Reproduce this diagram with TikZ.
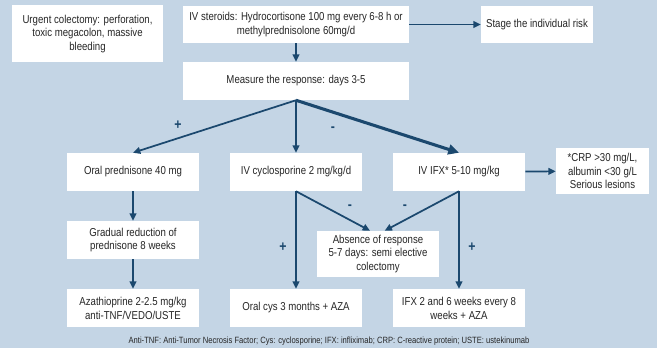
\documentclass[tikz,border=0pt]{standalone}
\usepackage{fontspec}
\setmainfont{Liberation Sans}[FakeStretch=0.84]
\usepackage{xcolor}
\usepackage{tikz}
\usetikzlibrary{arrows.meta,calc,positioning}
\definecolor{panelblue}{RGB}{196,213,229}
\definecolor{arrowblue}{RGB}{27,72,110}
\definecolor{textgray}{RGB}{38,38,38}

\begin{document}
\begin{tikzpicture}[x=0.75pt,y=-0.75pt,>={Triangle[length=5.5pt,width=5pt]},line cap=butt]
\tikzset{stepbox/.style={fill=white,text=textgray,align=center,inner sep=1pt,
    font=\fontsize{8.6}{10.4}\selectfont,minimum width=99pt,minimum height=28.5pt},
  flow/.style={->,arrowblue,line width=1.3pt},
  sign/.style={text=arrowblue,font=\fontsize{11}{11}\selectfont\bfseries}}
% background
\fill[panelblue] (0,0) rectangle (657,348);
\useasboundingbox (0,0) rectangle (657,348);

% top row
\node[stepbox,minimum width=113.25pt,minimum height=42.75pt] (urgent) at (87.5,34)
  {Urgent colectomy: perforation,\\toxic megacolon, massive\\bleeding};
\node[stepbox,minimum width=169.5pt,minimum height=27.75pt] (steroids) at (296,24.5)
  {IV steroids: Hydrocortisone 100 mg every 6-8 h or\\methylprednisolone 60mg/d};
\node[stepbox,minimum width=84pt,minimum height=27.75pt] (stage) at (537,24.5)
  {Stage the individual risk};
\node[stepbox,minimum width=169.5pt] (measure) at (296,81) {Measure the response: days 3-5};

% treatments
\node[stepbox] (pred) at (133,172) {Oral prednisone 40 mg};
\node[stepbox] (cyclo) at (296,172) {IV cyclosporine 2 mg/kg/d};
\node[stepbox] (ifx) at (459,172) {IV IFX* 5-10 mg/kg};
\node[stepbox,minimum width=69.75pt,minimum height=34.5pt] (crp) at (602.5,171)
  {*CRP >30 mg/L,\\albumin <30 g/L\\Serious lesions};
\node[stepbox] (gradual) at (133,240) {Gradual reduction of\\prednisone 8 weeks};
\node[stepbox,minimum width=91.5pt,minimum height=34.5pt] (absence) at (378,254)
  {Absence of response\\5-7 days: semi elective\\colectomy};

% bottom row
\node[stepbox] (aza) at (133,308) {Azathioprine 2-2.5 mg/kg\\anti-TNF/VEDO/USTE};
\node[stepbox] (oralcys) at (296,308) {Oral cys 3 months + AZA};
\node[stepbox] (ifxkeep) at (459,308) {IFX 2 and 6 weeks every 8\\weeks + AZA};

\node[text=textgray,font=\fontsize{6.8}{7}\selectfont] (legend) at (329,341)
  {Anti-TNF: Anti-Tumor Necrosis Factor; Cys: cyclosporine; IFX: infliximab; CRP: C-reactive protein; USTE: ustekinumab};

% connectors
\draw[flow] (steroids) -- (measure);
\draw[flow] (steroids) -- (stage);
\draw[flow] (measure.south) -- (pred.north);
\draw[flow] (measure.south) -- (cyclo.north);
\draw[flow,line width=2.3pt,-{Triangle[length=8pt,width=7.5pt]}] (measure.south) -- (ifx.north);
\draw[flow] (ifx) -- (crp);
\draw[flow] (pred) -- (gradual);
\draw[flow] (gradual) -- (aza);
\draw[flow] (cyclo.south) -- (oralcys.north);
\draw[flow] (cyclo.south) -- ([xshift=-6pt]absence.north);
\draw[flow] (ifx.south) -- ([xshift=5pt]absence.north);
\draw[flow] (ifx.south) -- (ifxkeep.north);

% signs
\node[sign] (plusPred) at (178,125) {+};
\node[sign] (minusIfx) at (333,129) {-};
\node[sign] (minusCyclo) at (350,207) {-};
\node[sign] (minusIfxB) at (405,207) {-};
\node[sign] (plusCyclo) at (283,247) {+};
\node[sign] (plusIfx) at (472,247) {+};
\end{tikzpicture}
\end{document}
